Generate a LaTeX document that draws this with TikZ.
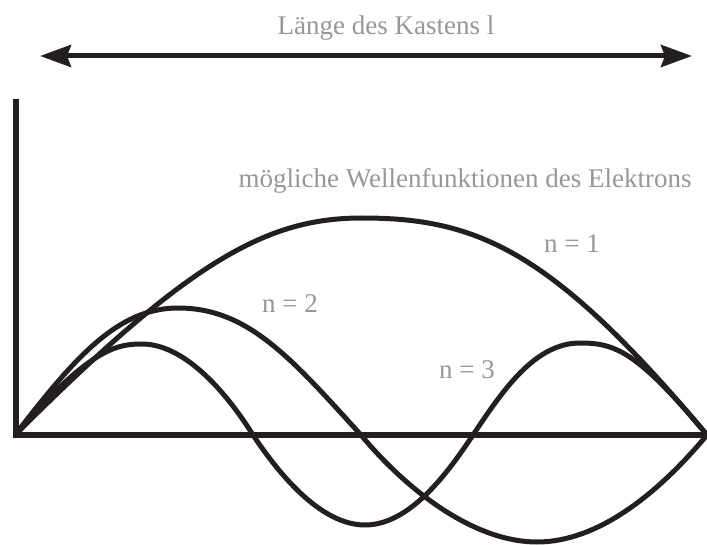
\documentclass[tikz,border=0pt]{standalone}
\usepackage{fontspec}
\setmainfont{Liberation Serif}
\usetikzlibrary{arrows.meta}
\definecolor{labelgray}{RGB}{150,150,155}
\definecolor{inkblack}{RGB}{35,31,32}
\begin{document}
\begin{tikzpicture}[x=1pt,y=-1pt,
  lbl/.style={text=labelgray,font=\fontsize{27}{31}\selectfont,anchor=base,inner sep=0pt},
  wave/.style={draw=inkblack,line width=5pt,line join=round},
  axis/.style={draw=inkblack,line width=6pt},
  dimarrow/.style={draw=inkblack,line width=5pt,{Stealth[length=31pt,width=22pt,inset=4pt]}-{Stealth[length=31pt,width=22pt,inset=4pt]}}]
\useasboundingbox (0,0) rectangle (707,545);
% dimension arrow
\coordinate (aL) at (40,56);
\coordinate (aR) at (692,56);
\draw[dimarrow] (aL) -- (aR);
\node[lbl] (len) at (386,35) {Länge des Kastens l};
% axes
\coordinate (ytop) at (16,99);
\coordinate (orig) at (16,435);
\coordinate (xend) at (707,435);
\draw[axis] (ytop) -- (orig) -- (xend);
% n = 1
\draw[wave] (15,435) .. controls (190,260) and (267,218) .. (362,218)
  .. controls (477,218) and (552,250) .. (707,435);
% n = 2
\draw[wave] (15,435) .. controls (75,357) and (118,308) .. (178,308)
  .. controls (248,308) and (291,358) .. (361,435)
  .. controls (411,495) and (477,542) .. (537,542)
  .. controls (597,542) and (657,495) .. (707,435);
% n = 3
\draw[wave] (15,435) .. controls (90,348) and (117,344) .. (142,344)
  .. controls (182,344) and (223,387) .. (253,435)
  .. controls (278,472.5) and (320,525) .. (365,525)
  .. controls (410,525) and (448,472.5) .. (473,435)
  .. controls (503,390) and (535,343) .. (580,343)
  .. controls (615,343) and (637,351) .. (707,435);
% labels
\node[lbl] (title) at (465,188) {mögliche Wellenfunktionen des Elektrons};
\node[lbl] (n1) at (572,253) {n = 1};
\node[lbl] (n2) at (290,313) {n = 2};
\node[lbl] (n3) at (467,378) {n = 3};
\end{tikzpicture}
\end{document}
